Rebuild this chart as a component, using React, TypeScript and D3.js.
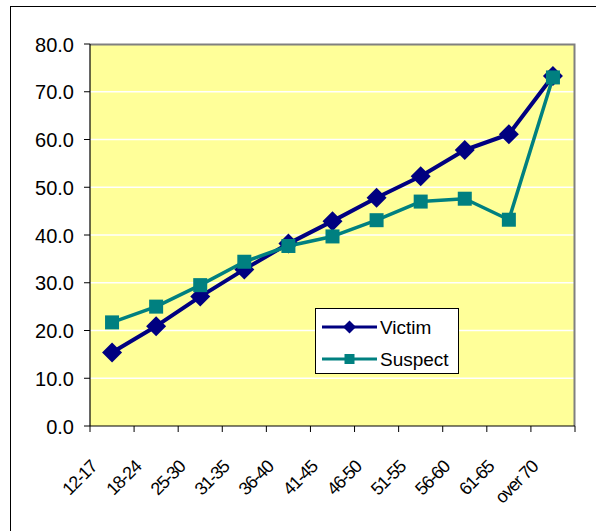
import React from "react";
import * as d3 from "d3";

const categories = ["12-17", "18-24", "25-30", "31-35", "36-40", "41-45", "46-50", "51-55", "56-60", "61-65", "over 70"];
const victim = [15.4, 20.9, 27.1, 32.8, 38.2, 42.9, 47.8, 52.3, 57.8, 61.1, 73.3];
const suspect = [21.7, 25.0, 29.5, 34.4, 37.7, 39.7, 43.1, 47.0, 47.6, 43.2, 73.0];
const yTicks = [0, 10, 20, 30, 40, 50, 60, 70, 80];
const seriesNames = ["Victim", "Suspect"];

const W = 596, H = 531;
const plot = { left: 90, top: 44, right: 575, bottom: 426 };
const VICTIM = "#000080";
const SUSPECT = "#008080";
const FONT = "'Liberation Sans', Arial, sans-serif";

export default function App() {
  const x = d3.scaleBand<string>().domain(categories).range([plot.left, plot.right]);
  const y = d3.scaleLinear().domain([0, 80]).range([plot.bottom, plot.top]);
  const cx = (c: string) => (x(c) as number) + x.bandwidth() / 2;
  const line = d3.line<number>().x((_, i) => cx(categories[i])).y((v) => y(v));
  const diamond = (px: number, py: number, r: number) =>
    `M${px},${py - r}L${px + r},${py}L${px},${py + r}L${px - r},${py}Z`;

  const tickXs = categories.map((c) => x(c) as number).concat([plot.right]);

  return (
    <svg width={W} height={H} style={{ position: "absolute", left: 0, top: 0 }} fontFamily={FONT}>
      <rect x={0} y={0} width={W} height={H} fill="#fff" />
      {/* outer frame */}
      <rect x={10.5} y={6.5} width={W} height={H} fill="none" stroke="#000" strokeWidth={1} />
      {/* plot area */}
      <rect x={plot.left} y={plot.top} width={plot.right - plot.left} height={plot.bottom - plot.top} fill="#FFFF99" />
      {yTicks.slice(1, -1).map((t) => (
        <line key={t} x1={plot.left} x2={plot.right} y1={y(t)} y2={y(t)} stroke="#fff" strokeWidth={1.5} />
      ))}
      {/* gray top/right border */}
      <path d={`M${plot.left},${plot.top + 0.5}H${plot.right - 0.5}V${plot.bottom}`} fill="none" stroke="#808080" strokeWidth={2} />
      {/* axes */}
      <line x1={plot.left} x2={plot.left} y1={plot.top} y2={plot.bottom} stroke="#000" strokeWidth={1.2} />
      <line x1={plot.left} x2={plot.right} y1={plot.bottom} y2={plot.bottom} stroke="#000" strokeWidth={1.2} />
      {yTicks.map((t) => (
        <g key={t}>
          <line x1={plot.left - 6} x2={plot.left} y1={y(t)} y2={y(t)} stroke="#000" strokeWidth={1} />
          <text x={74} y={y(t) + 7.5} textAnchor="end" fontSize={20} fill="#000">
            {t.toFixed(1)}
          </text>
        </g>
      ))}
      {tickXs.map((tx, i) => (
        <line key={i} x1={tx} x2={tx} y1={plot.bottom} y2={plot.bottom + 6} stroke="#000" strokeWidth={1} />
      ))}
      {categories.map((c) => (
        <text
          key={c}
          transform={`translate(${cx(c) - 14},${plot.bottom + 42}) rotate(-45)`}
          textAnchor="end"
          fontSize={18}
          letterSpacing={-1.2}
          fill="#000"
        >
          {c}
        </text>
      ))}
      {/* victim */}
      <path d={line(victim) as string} fill="none" stroke={VICTIM} strokeWidth={4} strokeLinejoin="round" />
      {victim.map((v, i) => (
        <path key={i} d={diamond(cx(categories[i]), y(v), 10)} fill={VICTIM} />
      ))}
      {/* suspect */}
      <path d={line(suspect) as string} fill="none" stroke={SUSPECT} strokeWidth={3.5} strokeLinejoin="round" />
      {suspect.map((v, i) => (
        <rect key={i} x={cx(categories[i]) - 7} y={y(v) - 7} width={14} height={14} fill={SUSPECT} />
      ))}
      {/* legend */}
      <rect x={315.5} y={308.5} width={143} height={65} fill="#fff" stroke="#000" strokeWidth={1} />
      {seriesNames.map((s, i) => {
        const ly = 327 + i * 32;
        const col = i === 0 ? VICTIM : SUSPECT;
        return (
          <g key={s}>
            <line x1={322} x2={377} y1={ly} y2={ly} stroke={col} strokeWidth={3} />
            {i === 0 ? (
              <path d={diamond(349.5, ly, 6.5)} fill={col} />
            ) : (
              <rect x={344.5} y={ly - 5} width={10} height={10} fill={col} />
            )}
            <text x={380} y={ly + 7} fontSize={19} fill="#000">
              {s}
            </text>
          </g>
        );
      })}
    </svg>
  );
}
